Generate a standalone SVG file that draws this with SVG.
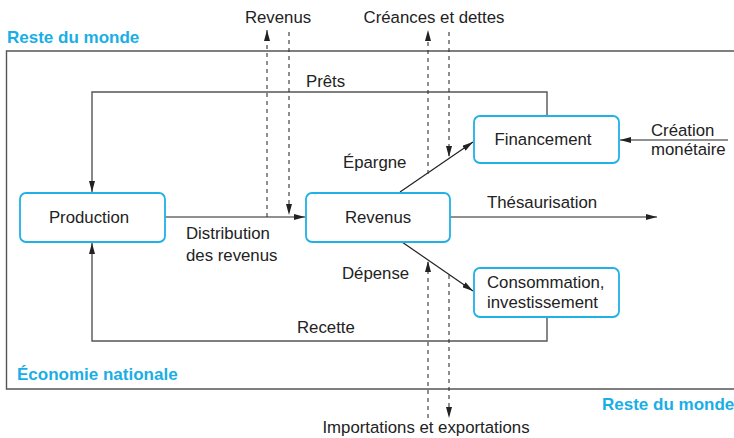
<svg xmlns="http://www.w3.org/2000/svg" width="734" height="438" viewBox="0 0 734 438">
<style>
text{font-family:"Liberation Sans",Arial,sans-serif;font-size:16.8px;fill:#222}
.blue{fill:#19aee6;font-weight:bold;font-size:17px}
.node rect{fill:#fff;stroke:#1fb1e8;stroke-width:1.8}
.frame{fill:none;stroke:#555;stroke-width:1.4}
.gray{fill:none;stroke:#555;stroke-width:1.4}
.arr{fill:none;stroke:#222;stroke-width:1.2}
.dash{fill:none;stroke:#333;stroke-width:1.1;stroke-dasharray:4 4}
</style>
<defs>
<marker id="ah" viewBox="0 0 11 6" refX="11" refY="3" markerWidth="11" markerHeight="6" markerUnits="userSpaceOnUse" orient="auto">
<path d="M0,0 L11,3 L0,6 Z" fill="#222"/>
</marker>
</defs>
<rect width="734" height="438" fill="#fff"/>
<path class="frame" d="M734,51 H6.5 V389 H734"/>
<text class="blue" x="7" y="43">Reste du monde</text>
<text class="blue" x="17" y="380">Économie nationale</text>
<text class="blue" x="602" y="410">Reste du monde</text>
<g id="connectors">
<path class="gray" d="M547,116 V92 H92 V192" marker-end="url(#ah)"/>
<path class="gray" d="M547,317 V341 H92 V243" marker-end="url(#ah)"/>
<line class="arr" x1="165" y1="217" x2="305" y2="217" marker-end="url(#ah)"/>
<line class="arr" x1="450" y1="217" x2="657" y2="217" marker-end="url(#ah)"/>
<line class="arr" x1="400" y1="192" x2="473" y2="142" marker-end="url(#ah)"/>
<line class="arr" x1="402" y1="242" x2="473" y2="291" marker-end="url(#ah)"/>
<line class="arr" x1="728" y1="140" x2="620" y2="140" marker-end="url(#ah)"/>
<line class="dash" x1="267" y1="217" x2="267" y2="30" marker-end="url(#ah)"/>
<line class="dash" x1="289" y1="32" x2="289" y2="215" marker-end="url(#ah)"/>
<line class="dash" x1="428" y1="174" x2="428" y2="30" marker-end="url(#ah)"/>
<line class="dash" x1="449" y1="32" x2="449" y2="157" marker-end="url(#ah)"/>
<line class="dash" x1="428" y1="418" x2="428" y2="261" marker-end="url(#ah)"/>
<line class="dash" x1="449" y1="275" x2="449" y2="418" marker-end="url(#ah)"/>
</g>
<g id="labels">
<text x="278" y="23" text-anchor="middle">Revenus</text>
<text x="434" y="23" text-anchor="middle">Créances et dettes</text>
<text x="306" y="87">Prêts</text>
<text x="343" y="168">Épargne</text>
<text x="651" y="136">Création</text>
<text x="651" y="155">monétaire</text>
<text x="186" y="239">Distribution</text>
<text x="186" y="261">des revenus</text>
<text x="487" y="208">Thésaurisation</text>
<text x="342" y="279">Dépense</text>
<text x="297" y="333">Recette</text>
<text x="426" y="433" text-anchor="middle">Importations et exportations</text>
</g>
<g id="production" class="node">
<rect x="20" y="193" width="145" height="49" rx="6"/>
<text x="89" y="223" text-anchor="middle">Production</text>
</g>
<g id="revenus" class="node">
<rect x="306" y="193" width="144" height="49" rx="6"/>
<text x="378" y="223" text-anchor="middle">Revenus</text>
</g>
<g id="financement" class="node">
<rect x="474" y="116" width="145" height="47" rx="6"/>
<text x="543" y="145" text-anchor="middle">Financement</text>
</g>
<g id="consommation" class="node">
<rect x="474" y="268" width="145" height="49" rx="6"/>
<text x="487" y="288">Consommation,</text>
<text x="487" y="308">investissement</text>
</g>
</svg>
